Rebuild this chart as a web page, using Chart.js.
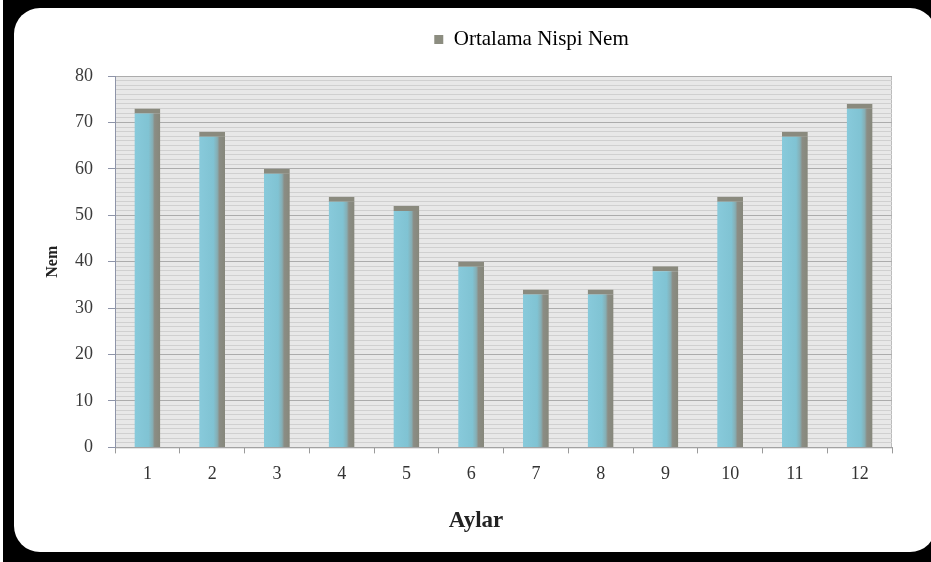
<!DOCTYPE html>
<html>
<head>
<meta charset="utf-8">
<script src="https://cdn.jsdelivr.net/npm/chart.js@4/dist/chart.umd.min.js"></script>
<style>
  html, body { margin: 0; padding: 0; width: 931px; height: 562px; overflow: hidden; background: #ffffff; }
  .frame { position: absolute; left: 3px; top: 0; width: 950px; height: 580px; background: #000; }
  .sheet { position: absolute; left: 14px; top: 8px; width: 922px; height: 544px; background: #fff; border-radius: 26px; }
  canvas { position: absolute; left: 20px; top: 0; }
</style>
</head>
<body>
<div class="frame"></div>
<div class="sheet"></div>
<canvas id="c" width="911" height="562"></canvas>
<script>
// Monthly mean relative humidity
const months = ['1', '2', '3', '4', '5', '6', '7', '8', '9', '10', '11', '12'];
const humidity = [73, 68, 60, 54, 52, 40, 34, 34, 39, 54, 68, 74];
const seriesName = 'Ortalama Nispi Nem';
const yTitle = 'Nem';
const xTitle = 'Aylar';

const serif = "'Liberation Serif', 'DejaVu Serif', serif";

// light grey plot background with a thin frame
const plotBackground = {
  id: 'plotBackground',
  beforeDraw(chart) {
    const { ctx, chartArea: a } = chart;
    ctx.save();
    ctx.fillStyle = '#e8e8e8';
    ctx.fillRect(a.left, a.top, a.right - a.left, a.bottom - a.top);
    ctx.strokeStyle = '#bcbcbc';
    ctx.lineWidth = 1;
    ctx.strokeRect(a.left + 0.5, a.top + 0.5, a.right - a.left - 1, a.bottom - a.top);
    ctx.restore();
  }
};

// legend block: fixed height above the plot, nudged right; title nudged right
const boxOffsets = {
  id: 'boxOffsets',
  afterInit(chart) {
    const lg = chart.legend;
    if (lg) {
      const baseFit = lg.fit;
      lg.fit = function () { baseFit.call(this); this.height = 76; };
    }
  },
  afterLayout(chart) {
    if (chart.legend) chart.legend.left += 56;
    if (chart.titleBlock) chart.titleBlock.right += 40;
  }
};

// cyan face shading into a grey side, like a shallow 3D column
function barFill(context) {
  const chart = context.chart;
  if (!chart.chartArea || context.type !== 'data') return '#80c4d4';
  const xs = chart.scales.x;
  const cx = xs.getPixelForValue(context.dataIndex);
  const w = xs.width / months.length * 0.4;
  const g = chart.ctx.createLinearGradient(cx - w / 2, 0, cx + w / 2, 0);
  g.addColorStop(0, '#88cadb');
  g.addColorStop(0.55, '#80c3d3');
  g.addColorStop(0.7, '#86aeb4');
  g.addColorStop(0.78, '#8b8d85');
  g.addColorStop(1, '#86877b');
  return g;
}

new Chart(document.getElementById('c'), {
  type: 'bar',
  data: {
    labels: months,
    datasets: [{
      label: seriesName,
      data: humidity,
      backgroundColor: barFill,
      borderColor: '#8a8a7e',
      borderWidth: { top: 5, left: 0, right: 0, bottom: 0 },
      borderSkipped: false,
      categoryPercentage: 1,
      barPercentage: 0.4
    }]
  },
  options: {
    responsive: false,
    devicePixelRatio: 1,
    animation: false,
    layout: { padding: { top: 0, right: 39, bottom: 0, left: 0 } },
    plugins: {
      legend: {
        position: 'top',
        fullSize: false,
        labels: {
          font: { family: serif, size: 21 },
          color: '#333',
          boxWidth: 9,
          boxHeight: 9,
          padding: 29,
          generateLabels(chart) {
            return [{ text: seriesName, fillStyle: '#8c8d80', strokeStyle: '#8c8d80', lineWidth: 0, datasetIndex: 0 }];
          }
        }
      },
      title: {
        display: true,
        position: 'bottom',
        text: xTitle,
        color: '#222',
        font: { family: serif, size: 23, weight: 'bold' },
        padding: { top: 20, bottom: 27 }
      },
      tooltip: { enabled: false }
    },
    scales: {
      x: {
        offset: true,
        grid: { display: true, drawOnChartArea: false, offset: true, tickLength: 6, tickColor: '#9a9a9a' },
        border: { color: '#a3a3a3' },
        ticks: { font: { family: serif, size: 18 }, color: '#333', padding: 10 },
        afterFit(scale) { scale.height = 40; }
      },
      y: {
        min: 0,
        max: 80,
        ticks: {
          stepSize: 1,
          maxTicksLimit: 200,
          autoSkip: false,
          padding: 15,
          font: { family: serif, size: 18 },
          color: '#3a3a3a',
          callback: v => (v % 10 === 0 ? String(v) : '')
        },
        grid: {
          color: c => (c.tick && c.tick.value % 10 === 0 ? '#acacac' : '#d0d0d0'),
          tickColor: c => (c.tick && c.tick.value % 10 === 0 ? '#8e94a8' : 'rgba(0,0,0,0)'),
          tickLength: 7
        },
        border: { color: '#8e94a8' },
        title: {
          display: true,
          text: yTitle,
          color: '#222',
          font: { family: serif, size: 16, weight: 'bold' },
          padding: { top: 23, bottom: 0 }
        },
        afterFit(scale) { scale.width = 95; }
      }
    }
  },
  plugins: [plotBackground, boxOffsets]
});
</script>
</body>
</html>
